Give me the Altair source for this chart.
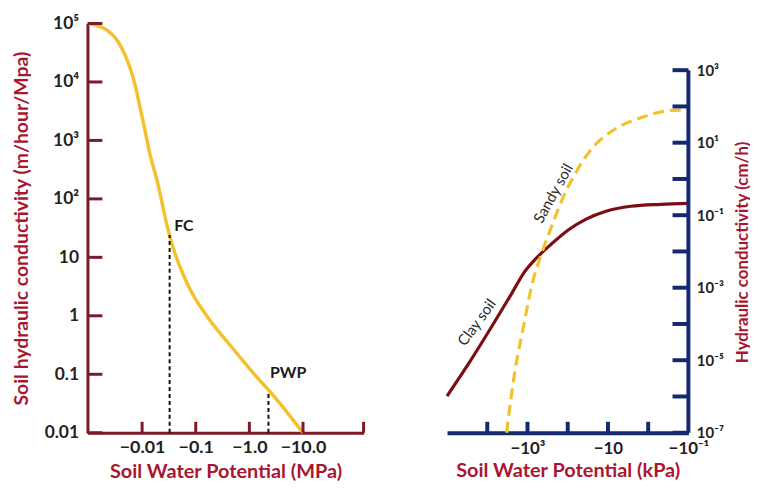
import altair as alt
import pandas as pd

# ---------------- Left panel data (suction magnitude in MPa, K in m/hour/MPa)
left_suction = [0.001, 0.00225, 0.00392, 0.00574, 0.00741, 0.00918, 0.01137,
                0.01406, 0.01897, 0.02345, 0.02904, 0.0375, 0.0527, 0.0741,
                0.16, 0.408, 1.186, 3.16, 10.0]
left_k = [1e5, 76100, 42300, 19300, 8850, 3600, 1460, 571, 207, 87.5, 35.6,
          15.0, 6.36, 3.15, 1, 0.339, 0.105, 0.038, 0.01]

marker_names = ["FC", "PWP"]
marker_x = [0.0326, 2.27]
marker_top = [24, 0.046]
marker_bottom = [0.01, 0.01]
marker_label_x = [0.060, 5.3]
marker_label_y = [35, 0.105]

left_y_ticks = [0.01, 0.1, 1, 10, 100, 1e3, 1e4, 1e5]
left_y_labels = ["0.01", "0.1", "1", "10", "10²", "10³", "10⁴", "10⁵"]
left_x_ticks = [0.01, 0.1, 1, 10]
left_x_labels = ["−0.01", "−0.1", "−1.0", "−10.0"]
left_x_domain = [0.000958, 134.9]
left_y_domain = [0.01, 1e5]

# ---------------- Right panel data (suction magnitude in kPa, K in cm/h)
clay_suction = [1e5, 28600, 7740, 2480, 1186, 600, 255, 97, 35, 11.2, 2.7,
                0.49, 0.1]
clay_k = [1.03e-6, 8.3e-6, 8.5e-5, 6.9e-4, 2.74e-3, 6.6e-3, 0.016, 0.039,
          0.078, 0.129, 0.177, 0.2, 0.213]
sandy_suction = [3304, 2094, 1256, 796, 451, 255, 137, 69, 26.3, 7.1, 1.53,
                 0.33, 0.1]
sandy_k = [1e-7, 4.4e-6, 8.5e-5, 1.07e-3, 8.5e-3, 0.047, 0.275, 1.25, 6.5,
           22.7, 48.4, 75.3, 80.2]

soil_names = ["Clay soil", "Sandy soil"]
soil_label_x = [18200, 228]
soil_label_y = [1.1e-4, 0.40]
soil_label_angle = [306, 299]

right_y_ticks = [1e-7, 1e-6, 1e-5, 1e-4, 1e-3, 1e-2, 1e-1, 1, 10, 100, 1e3]
right_y_label_values = [1e-7, 1e-5, 1e-3, 1e-1, 10, 1e3]
right_y_labels = ["10⁻⁷", "10⁻⁵", "10⁻³", "10⁻¹", "10¹", "10³"]
right_x_ticks = [1e4, 1e3, 100, 10, 1]
right_x_label_values = [1e3, 10, 0.1]
right_x_labels = ["−10³", "−10", "−10⁻¹"]
right_x_domain = [0.1, 1e5]
right_y_domain = [1e-7, 19400]
right_axis_span = [1e-7, 1e3]

# ---------------- styles
RED_AXIS = "#7d1a28"
RED_TITLE = "#a8172f"
NAVY = "#14296e"
GOLD = "#f2c12e"
CLAY = "#7c0d12"
FONT = "Lato"

LW, LH = 278, 412
RW, RH = 243, 412


def label_expr(values, labels):
    parts = [f"abs(datum.value - {v!r}) < {abs(v)!r} * 1e-3 ? '{l}'"
             for v, l in zip(values, labels)]
    return " : ".join(parts) + " : ''"


lxs = alt.Scale(type="log", domain=left_x_domain, nice=False)
lys = alt.Scale(type="log", domain=left_y_domain, nice=False)

left_x_axis = alt.Axis(
    values=left_x_ticks, labelExpr=label_expr(left_x_ticks, left_x_labels),
    ticks=False, grid=False, domainColor=RED_AXIS, domainWidth=3,
    labelFontSize=18, labelFontWeight="bold", labelColor="#222222",
    labelPadding=6, labelFlush=False,
    title="Soil Water Potential (MPa)", titleColor=RED_TITLE,
    titleFontSize=20, titleFontWeight="bold", titlePadding=5)
left_y_axis = alt.Axis(
    values=left_y_ticks, labelExpr=label_expr(left_y_ticks, left_y_labels),
    ticks=False, grid=False, domainColor=RED_AXIS, domainWidth=3,
    labelFontSize=17.5, labelFontWeight="bold", labelColor="#222222",
    labelPadding=9, labelFlush=False,
    title="Soil hydraulic conductivity (m/hour/Mpa)", titleColor=RED_TITLE,
    titleFontSize=19.5, titleFontWeight="bold", titlePadding=13,
    titleLimit=600)

left_curve_df = pd.DataFrame({"suction": left_suction, "k": left_k})
marker_df = pd.DataFrame({"name": marker_names, "suction": marker_x,
                          "top": marker_top, "k": marker_bottom,
                          "lx": marker_label_x, "ly": marker_label_y})
left_yt_df = pd.DataFrame({"k": left_y_ticks})
left_xt_df = pd.DataFrame({"suction": left_x_ticks + [left_x_domain[1]]})

left_curve = alt.Chart(left_curve_df).mark_line(
    color=GOLD, strokeWidth=3.5, interpolate="monotone"
).encode(
    x=alt.X("suction:Q", scale=lxs, axis=left_x_axis),
    y=alt.Y("k:Q", scale=lys, axis=left_y_axis),
)

left_dash = alt.Chart(marker_df).mark_rule(
    color="#111111", strokeWidth=2, strokeDash=[4, 3]
).encode(
    x=alt.X("suction:Q", scale=lxs, axis=left_x_axis),
    y=alt.Y("k:Q", scale=lys, axis=left_y_axis),
    y2="top:Q",
)

left_text = alt.Chart(marker_df).mark_text(
    fontSize=16, fontWeight="bold", color="#1a1a1a", font=FONT
).encode(
    x=alt.X("lx:Q", scale=lxs, axis=left_x_axis),
    y=alt.Y("ly:Q", scale=lys, axis=left_y_axis),
    text="name:N",
)

left_yticks = alt.Chart(left_yt_df).mark_rule(
    color=RED_AXIS, strokeWidth=3
).encode(
    y=alt.Y("k:Q", scale=lys, axis=left_y_axis),
    x=alt.value(0), x2=alt.value(15),
)

left_xticks = alt.Chart(left_xt_df).mark_rule(
    color=RED_AXIS, strokeWidth=3
).encode(
    x=alt.X("suction:Q", scale=lxs, axis=left_x_axis),
    y=alt.value(LH), y2=alt.value(LH - 11),
)

left = alt.layer(left_curve, left_dash, left_text, left_yticks,
                 left_xticks).properties(width=LW, height=LH)

# ---------------- Right panel
rxs = alt.Scale(type="log", domain=right_x_domain, nice=False, reverse=True)
rys = alt.Scale(type="log", domain=right_y_domain, nice=False)

right_x_axis = alt.Axis(
    values=right_x_label_values,
    labelExpr=label_expr(right_x_label_values, right_x_labels),
    ticks=False, grid=False, domainColor=NAVY, domainWidth=4,
    labelFontSize=17, labelFontWeight="bold", labelColor="#222222",
    labelPadding=8, labelFlush=False,
    title="Soil Water Potential (kPa)", titleColor=RED_TITLE,
    titleFontSize=20, titleFontWeight="bold", titlePadding=4)
right_y_axis = alt.Axis(
    orient="right", values=right_y_label_values,
    labelExpr=label_expr(right_y_label_values, right_y_labels),
    ticks=False, grid=False, domain=False,
    labelFontSize=15, labelFontWeight="bold", labelColor="#222222",
    labelPadding=8, labelFlush=False,
    title="Hydraulic conductivity (cm/h)", titleColor=RED_TITLE,
    titleFontSize=17, titleFontWeight="bold", titleAngle=270,
    titleAlign="center", titleBaseline="middle",
    titleX=54, titleY=230, titleLimit=600)

clay_df = pd.DataFrame({"suction": clay_suction, "k": clay_k})
sandy_df = pd.DataFrame({"suction": sandy_suction, "k": sandy_k})
soil_lab_df = pd.DataFrame({"name": soil_names, "suction": soil_label_x,
                            "k": soil_label_y, "a": soil_label_angle})
ryt_df = pd.DataFrame({"k": right_y_ticks})
rxt_df = pd.DataFrame({"suction": right_x_ticks})
span_df = pd.DataFrame({"k": [right_axis_span[0]], "hi": [right_axis_span[1]]})

clay_line = alt.Chart(clay_df).mark_line(
    color=CLAY, strokeWidth=3.2, interpolate="monotone"
).encode(
    x=alt.X("suction:Q", scale=rxs, axis=right_x_axis),
    y=alt.Y("k:Q", scale=rys, axis=right_y_axis),
)

sandy_line = alt.Chart(sandy_df).mark_line(
    color=GOLD, strokeWidth=3.2, strokeDash=[11, 6], interpolate="monotone"
).encode(
    x=alt.X("suction:Q", scale=rxs, axis=right_x_axis),
    y=alt.Y("k:Q", scale=rys, axis=right_y_axis),
)

soil_text = alt.Chart(soil_lab_df).mark_text(
    fontSize=15, color="#2a2a2a", font=FONT
).encode(
    x=alt.X("suction:Q", scale=rxs, axis=right_x_axis),
    y=alt.Y("k:Q", scale=rys, axis=right_y_axis),
    text="name:N",
    angle=alt.Angle("a:Q", scale=None),
)

r_axis_line = alt.Chart(span_df).mark_rule(
    color=NAVY, strokeWidth=4
).encode(
    x=alt.value(RW),
    y=alt.Y("k:Q", scale=rys, axis=right_y_axis),
    y2="hi:Q",
)

r_yticks = alt.Chart(ryt_df).mark_rule(
    color=NAVY, strokeWidth=4
).encode(
    y=alt.Y("k:Q", scale=rys, axis=right_y_axis),
    x=alt.value(RW - 16), x2=alt.value(RW),
)

r_xticks = alt.Chart(rxt_df).mark_rule(
    color=NAVY, strokeWidth=4
).encode(
    x=alt.X("suction:Q", scale=rxs, axis=right_x_axis),
    y=alt.value(RH), y2=alt.value(RH - 11),
)

right = alt.layer(clay_line, sandy_line, soil_text, r_axis_line, r_yticks,
                  r_xticks).properties(width=RW, height=RH)

chart = alt.hconcat(left, right, spacing=75).properties(
    padding={"left": 3, "top": 5, "right": 0, "bottom": 0},
    background="white",
).configure(font=FONT).configure_view(stroke=None)

chart.save("out.html", embed_options={"renderer": "svg", "actions": False})
